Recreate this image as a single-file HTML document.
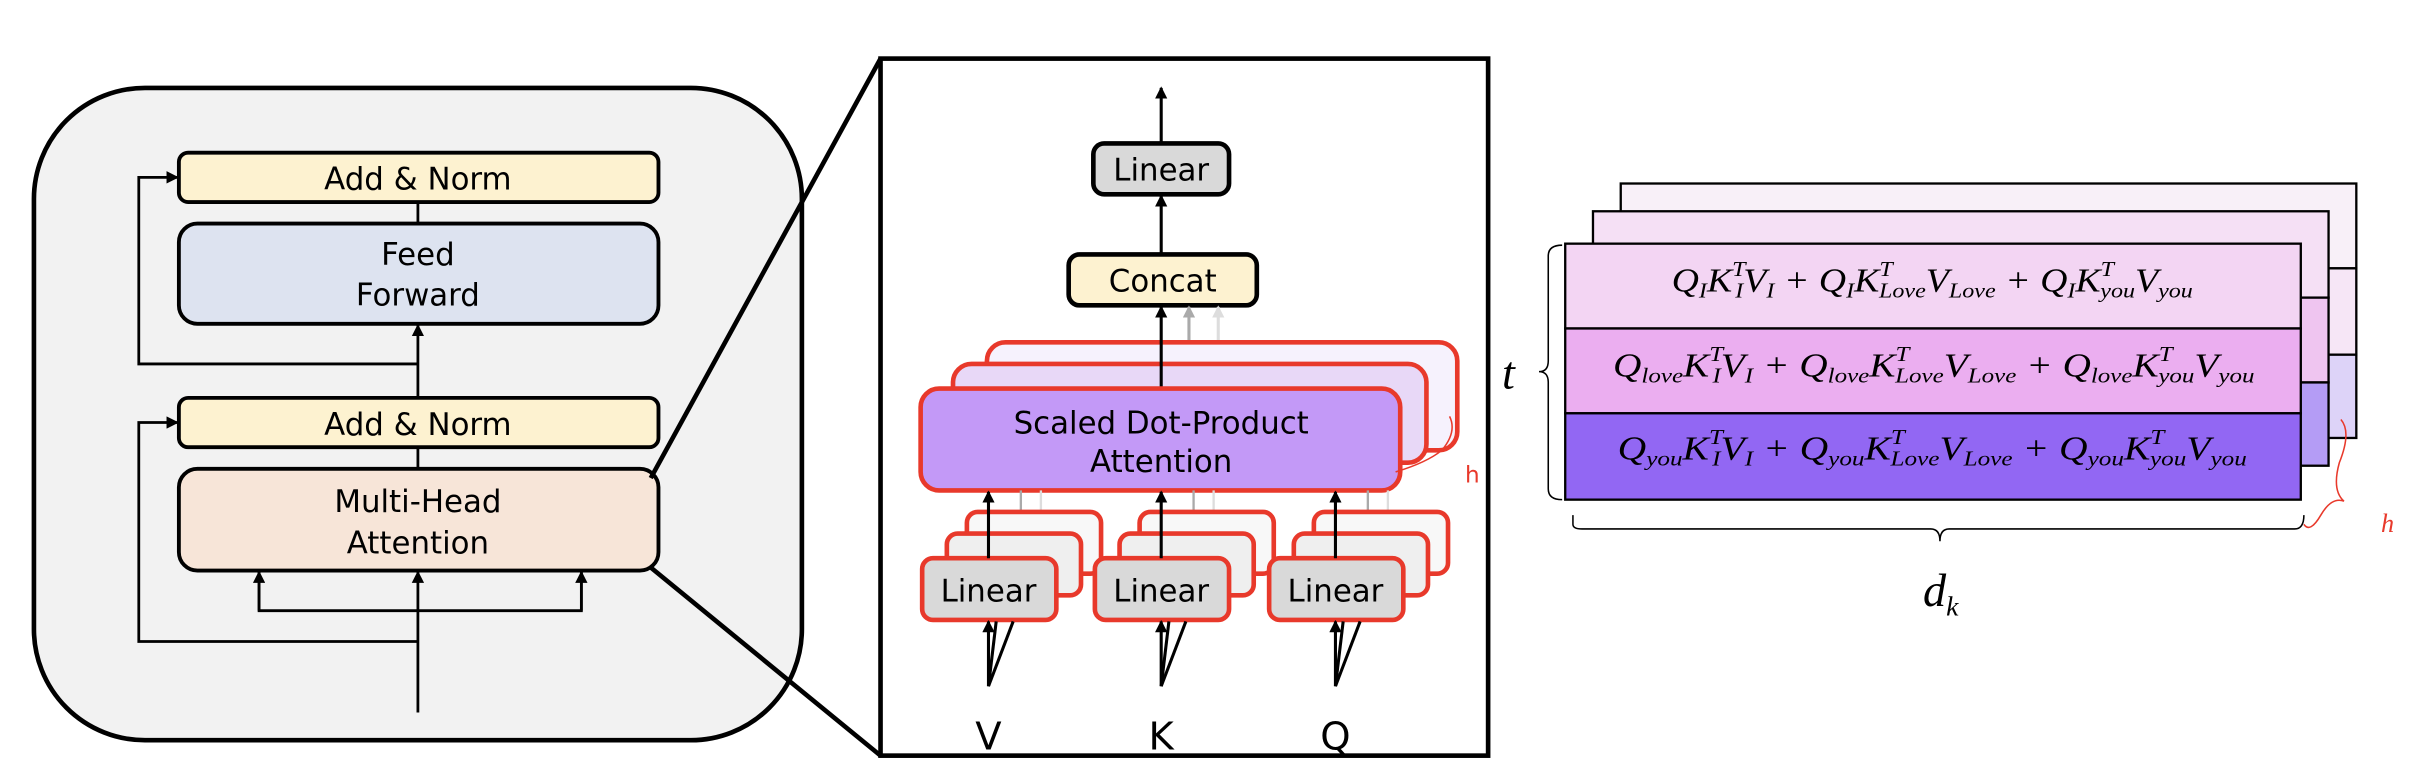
<!DOCTYPE html>
<html><head><meta charset="utf-8"><style>
html,body{margin:0;padding:0;background:#fff;}
svg{display:block;}
text{font-family:"DejaVu Sans","Liberation Sans",sans-serif;}
.eq{font-family:"Liberation Serif",serif;font-style:italic;font-size:22px;fill:#000;}
</style></head><body>
<svg width="2418" height="778" viewBox="0 0 1568 504.5" preserveAspectRatio="none" xmlns="http://www.w3.org/2000/svg">
<defs>
<marker id="a" markerWidth="8" markerHeight="8" refX="7" refY="4" orient="auto" markerUnits="userSpaceOnUse"><path d="M0,0 L8,4 L0,8 z" fill="#000"/></marker>
<marker id="ag" markerWidth="8" markerHeight="8" refX="7" refY="4" orient="auto" markerUnits="userSpaceOnUse"><path d="M0,0 L8,4 L0,8 z" fill="#aaa"/></marker>
<marker id="al" markerWidth="8" markerHeight="8" refX="7" refY="4" orient="auto" markerUnits="userSpaceOnUse"><path d="M0,0 L8,4 L0,8 z" fill="#ddd"/></marker>
</defs>

<!-- LEFT PANEL -->
<rect x="22" y="57" width="498" height="423" rx="72" fill="#f2f2f2" stroke="#000" stroke-width="3"/>
<rect x="116" y="99" width="311" height="32" rx="6" fill="#fdf2d0" stroke="#000" stroke-width="2.5"/>
<text x="271" y="123" font-size="20" text-anchor="middle">Add &amp; Norm</text>
<rect x="116" y="145" width="311" height="65" rx="12" fill="#dde3f0" stroke="#000" stroke-width="2.5"/>
<text x="271" y="172" font-size="20" text-anchor="middle">Feed</text>
<text x="271" y="198" font-size="20" text-anchor="middle">Forward</text>
<rect x="116" y="258" width="311" height="32" rx="6" fill="#fdf2d0" stroke="#000" stroke-width="2.5"/>
<text x="271" y="282" font-size="20" text-anchor="middle">Add &amp; Norm</text>
<rect x="116" y="304" width="311" height="66" rx="12" fill="#f7e5d8" stroke="#000" stroke-width="2.5"/>
<text x="271" y="332" font-size="20" text-anchor="middle">Multi-Head</text>
<text x="271" y="359" font-size="20" text-anchor="middle">Attention</text>
<g stroke="#000" stroke-width="1.8" fill="none">
<line x1="271" y1="131" x2="271" y2="145"/>
<line x1="271" y1="290" x2="271" y2="304"/>
<line x1="271" y1="258" x2="271" y2="211" marker-end="url(#a)"/>
<polyline points="271,236 90,236 90,115 115,115" marker-end="url(#a)"/>
<line x1="271" y1="462" x2="271" y2="371" marker-end="url(#a)"/>
<polyline points="168,371 168,396 377,396 377,371"/>
<line x1="168" y1="396" x2="168" y2="371" marker-end="url(#a)"/>
<line x1="377" y1="396" x2="377" y2="371" marker-end="url(#a)"/>
<polyline points="271,416 90,416 90,274 115,274" marker-end="url(#a)"/>
</g>
<line x1="422" y1="310" x2="571" y2="38" stroke="#000" stroke-width="3"/>
<line x1="422" y1="368" x2="571" y2="490" stroke="#000" stroke-width="3"/>

<!-- MIDDLE PANEL -->
<rect x="571" y="38" width="394" height="452" fill="#fff" stroke="#000" stroke-width="3"/>
<line x1="753" y1="93" x2="753" y2="57" stroke="#000" stroke-width="2" marker-end="url(#a)"/>
<rect x="709" y="93" width="88" height="33" rx="7" fill="#d9d9d9" stroke="#000" stroke-width="3"/>
<text x="753" y="117" font-size="20" text-anchor="middle">Linear</text>
<line x1="753" y1="165" x2="753" y2="127" stroke="#000" stroke-width="2" marker-end="url(#a)"/>
<rect x="693" y="165" width="122" height="33" rx="7" fill="#fdf2d0" stroke="#000" stroke-width="3"/>
<text x="754" y="189" font-size="20" text-anchor="middle">Concat</text>
<line x1="771" y1="226" x2="771" y2="199" stroke="#aaa" stroke-width="2" marker-end="url(#ag)"/>
<line x1="790" y1="222" x2="790" y2="199" stroke="#ddd" stroke-width="2" marker-end="url(#al)"/>
<rect x="640" y="222" width="305" height="70" rx="12" fill="#f6f2fd" stroke="#e8392b" stroke-width="3"/>
<rect x="618" y="236" width="307" height="64" rx="12" fill="#e8d8f7" stroke="#e8392b" stroke-width="3"/>
<line x1="753" y1="252" x2="753" y2="199" stroke="#000" stroke-width="2" marker-end="url(#a)"/>
<rect x="597" y="252" width="311" height="66" rx="12" fill="#c399f7" stroke="#e8392b" stroke-width="3"/>
<text x="753" y="281" font-size="20" text-anchor="middle">Scaled Dot-Product</text>
<text x="753" y="306" font-size="20" text-anchor="middle">Attention</text>
<path d="M905,306 Q925,300 935,292 Q945,280 940,270" stroke="#e8392b" stroke-width="1" fill="none"/>
<text x="950" y="313" font-size="15" fill="#e8392b">h</text>

<!-- Linear groups -->
<g id="lg">
<line x1="662" y1="318" x2="662" y2="348" stroke="#aaa" stroke-width="1.5"/>
<line x1="675" y1="318" x2="675" y2="332" stroke="#ddd" stroke-width="1.5"/>
<rect x="627" y="332" width="87" height="40" rx="7" fill="#f8f8f8" stroke="#e8392b" stroke-width="3"/>
<rect x="614" y="346" width="87" height="40" rx="7" fill="#efefef" stroke="#e8392b" stroke-width="3"/>
<rect x="598" y="362" width="87" height="40" rx="7" fill="#d9d9d9" stroke="#e8392b" stroke-width="3"/>
<text x="641" y="390" font-size="20" text-anchor="middle">Linear</text>
<line x1="641" y1="362" x2="641" y2="319" stroke="#000" stroke-width="2" marker-end="url(#a)"/>
<line x1="641" y1="445" x2="641" y2="403" stroke="#000" stroke-width="2" marker-end="url(#a)"/>
<line x1="641" y1="445" x2="646" y2="403" stroke="#000" stroke-width="2"/>
<line x1="641" y1="445" x2="657" y2="403" stroke="#000" stroke-width="2"/>
</g>
<use href="#lg" x="112"/>
<use href="#lg" x="225"/>
<text x="641" y="486" font-size="25" text-anchor="middle">V</text>
<text x="753" y="486" font-size="25" text-anchor="middle">K</text>
<text x="866" y="486" font-size="25" text-anchor="middle">Q</text>

<!-- RIGHT PANEL -->
<g stroke="#000" stroke-width="1.5">
<rect x="1051" y="119" width="477" height="55" fill="#f8f0f8"/>
<rect x="1051" y="174" width="477" height="56" fill="#f6e6f6"/>
<rect x="1051" y="230" width="477" height="54" fill="#ddd3f8"/>
<rect x="1033" y="137" width="477" height="56" fill="#f5e0f5"/>
<rect x="1033" y="193" width="477" height="55" fill="#efc5f0"/>
<rect x="1033" y="248" width="477" height="54" fill="#b49cf5"/>
<rect x="1015" y="158" width="477" height="55" fill="#f3d5f3"/>
<rect x="1015" y="213" width="477" height="55" fill="#ebaef0"/>
<rect x="1015" y="268" width="477" height="56" fill="#9267f3"/>
</g>
<text class="eq" x="1084" y="189" textLength="338" lengthAdjust="spacingAndGlyphs">Q<tspan font-size="14" dy="4">I</tspan><tspan dy="-4">K</tspan><tspan font-size="14" dy="-10">T</tspan><tspan font-size="14" dx="-6" dy="14">I</tspan><tspan dy="-4">V</tspan><tspan font-size="14" dy="4">I</tspan><tspan dy="-4"> + Q</tspan><tspan font-size="14" dy="4">I</tspan><tspan dy="-4">K</tspan><tspan font-size="14" dy="-10">T</tspan><tspan font-size="14" dx="-8" dy="14">Love</tspan><tspan dy="-4">V</tspan><tspan font-size="14" dy="4">Love</tspan><tspan dy="-4"> + Q</tspan><tspan font-size="14" dy="4">I</tspan><tspan dy="-4">K</tspan><tspan font-size="14" dy="-10">T</tspan><tspan font-size="14" dx="-8" dy="14">you</tspan><tspan dy="-4">V</tspan><tspan font-size="14" dy="4">you</tspan></text>
<text class="eq" x="1046" y="244" textLength="416" lengthAdjust="spacingAndGlyphs">Q<tspan font-size="14" dy="4">love</tspan><tspan dy="-4">K</tspan><tspan font-size="14" dy="-10">T</tspan><tspan font-size="14" dx="-6" dy="14">I</tspan><tspan dy="-4">V</tspan><tspan font-size="14" dy="4">I</tspan><tspan dy="-4"> + Q</tspan><tspan font-size="14" dy="4">love</tspan><tspan dy="-4">K</tspan><tspan font-size="14" dy="-10">T</tspan><tspan font-size="14" dx="-8" dy="14">Love</tspan><tspan dy="-4">V</tspan><tspan font-size="14" dy="4">Love</tspan><tspan dy="-4"> + Q</tspan><tspan font-size="14" dy="4">love</tspan><tspan dy="-4">K</tspan><tspan font-size="14" dy="-10">T</tspan><tspan font-size="14" dx="-8" dy="14">you</tspan><tspan dy="-4">V</tspan><tspan font-size="14" dy="4">you</tspan></text>
<text class="eq" x="1049" y="298" textLength="408" lengthAdjust="spacingAndGlyphs">Q<tspan font-size="14" dy="4">you</tspan><tspan dy="-4">K</tspan><tspan font-size="14" dy="-10">T</tspan><tspan font-size="14" dx="-6" dy="14">I</tspan><tspan dy="-4">V</tspan><tspan font-size="14" dy="4">I</tspan><tspan dy="-4"> + Q</tspan><tspan font-size="14" dy="4">you</tspan><tspan dy="-4">K</tspan><tspan font-size="14" dy="-10">T</tspan><tspan font-size="14" dx="-8" dy="14">Love</tspan><tspan dy="-4">V</tspan><tspan font-size="14" dy="4">Love</tspan><tspan dy="-4"> + Q</tspan><tspan font-size="14" dy="4">you</tspan><tspan dy="-4">K</tspan><tspan font-size="14" dy="-10">T</tspan><tspan font-size="14" dx="-8" dy="14">you</tspan><tspan dy="-4">V</tspan><tspan font-size="14" dy="4">you</tspan></text>
<!-- t brace -->
<path d="M1013,159 Q1004,159 1004,166 L1004,234 Q1004,241 998,241 Q1004,241 1004,248 L1004,317 Q1004,324 1013,324" stroke="#000" stroke-width="1" fill="none"/>
<text x="974" y="252" class="eq" style="font-size:30px">t</text>
<!-- dk brace -->
<path d="M1020,334 L1020,340 Q1020,343 1026,343 L1252,343 Q1258,343 1258,351 Q1258,343 1264,343 L1488,343 Q1494,343 1494,334" stroke="#000" stroke-width="1" fill="none"/>
<text x="1247" y="393" class="eq" style="font-size:30px">d<tspan style="font-size:18px" dy="6">k</tspan></text>
<!-- h brace -->
<path d="M1494,340 Q1498,346 1505,334 Q1512,322 1520,325 Q1512,318 1517,300 Q1525,280 1518,272" stroke="#e8392b" stroke-width="1" fill="none"/>
<text x="1544" y="345" class="eq" style="font-size:17px;fill:#e8392b">h</text>
</svg>
</body></html>
